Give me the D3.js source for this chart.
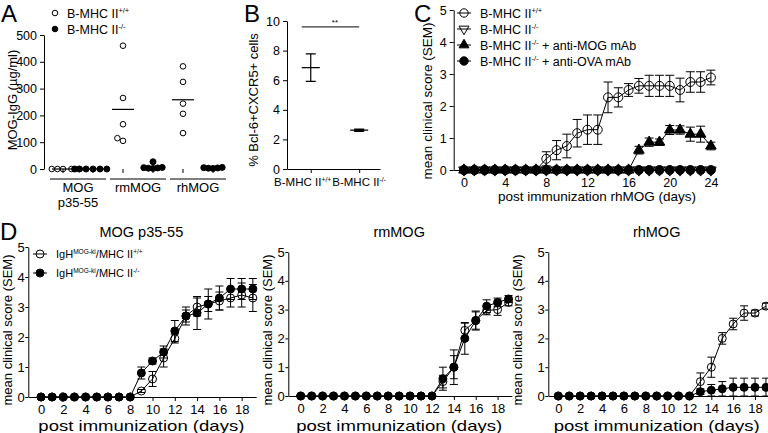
<!DOCTYPE html>
<html>
<head>
<meta charset="utf-8">
<script src="https://cdn.jsdelivr.net/npm/d3@7"></script>
<style>
body { margin: 0; background: #fff; }
svg { display: block; }
</style>
</head>
<body>
<svg id="fig" width="768" height="433"></svg>
<script>
var FAM = '"Liberation Sans", Arial, Helvetica, sans-serif';

// ---- panel A : MOG-IgG per immunogen ----
var aGroups = [['MOG', 'p35-55'], ['rmMOG'], ['rhMOG']];
var aWt = [[0, 0, 0, 0, 0], [460, 265, 167, 115, 105], [383, 325, 244, 206, 134]];
var aKo = [[0, 0, 0, 0, 0, 0], [27, 5, 3, 4, 2, 6], [5, 3, 6, 4, 2]];
var aTicks = [0, 100, 200, 300, 400, 500];

// ---- panel B : Tfh cells ----
var bGroups = [['B-MHC II', '^+/+'], ['B-MHC II', '^-/-']];
var bMean = [6.85, 2.62];
var bSem = [0.93, 0.08];
var bTicks = [0, 2, 4, 6, 8, 10];

// ---- panel C : EAE after rhMOG ----
var cDays = [0, 1, 2, 3, 4, 5, 6, 7, 8, 9, 10, 11, 12, 13, 14, 15, 16, 17, 18, 19, 20, 21, 22, 23, 24];
var cWt    = [0, 0, 0, 0, 0, 0, 0, 0, 0.35, 0.62, 0.75, 1.15, 1.26, 1.26, 2.27, 2.27, 2.5, 2.63, 2.63, 2.63, 2.63, 2.5, 2.75, 2.75, 2.89];
var cWtErr = [0, 0, 0, 0, 0, 0, 0, 0, 0.22, 0.3, 0.37, 0.43, 0.46, 0.46, 0.48, 0.3, 0.2, 0.23, 0.33, 0.33, 0.33, 0.37, 0.32, 0.32, 0.23];
var cKo    = [0, 0, 0, 0, 0, 0, 0, 0, 0, 0, 0, 0, 0, 0, 0, 0, 0, 0, 0, 0, 0, 0, 0, 0, 0];
var cMog    = [0, 0, 0, 0, 0, 0, 0, 0, 0, 0, 0, 0, 0, 0, 0, 0, 0, 0.62, 0.87, 0.87, 1.25, 1.25, 1.12, 1.12, 0.75];
var cMogErr = [0, 0, 0, 0, 0, 0, 0, 0, 0, 0, 0, 0, 0, 0, 0, 0, 0, 0.12, 0.13, 0.1, 0.14, 0.13, 0.22, 0.25, 0.12];
var cOva   = [0, 0, 0, 0, 0, 0, 0, 0, 0, 0, 0, 0, 0, 0, 0, 0, 0, 0, 0, 0, 0, 0, 0, 0, 0];
var cXTicks = [0, 4, 8, 12, 16, 20, 24];
var cLegend = [
  [['B-MHC II', '^+/+'], 'circleOpen'],
  [['B-MHC II', '^-/-'], 'triDownOpen'],
  [['B-MHC II', '^-/-', ' + anti-MOG mAb'], 'triUp'],
  [['B-MHC II', '^-/-', ' + anti-OVA mAb'], 'circleFilled']
];

// ---- panel D : IgH MOG-ki mice ----
var dDays = [0, 1, 2, 3, 4, 5, 6, 7, 8, 9, 10, 11, 12, 13, 14, 15, 16, 17, 18, 19];
var dTitles = ['MOG p35-55', 'rmMOG', 'rhMOG'];
var d1Wt    = [0, 0, 0, 0, 0, 0, 0, 0, 0, 0.2, 0.6, 1.3, 1.95, 2.7, 3.0, 3.1, 3.2, 3.3, 3.4, 3.3];
var d1WtErr = [0, 0, 0, 0, 0, 0, 0, 0, 0, 0.05, 0.25, 0.3, 0.15, 0.2, 0.3, 0.5, 0.3, 0.3, 0.4, 0.45];
var d1Ko    = [0, 0, 0, 0, 0, 0, 0, 0, 0, 0.8, 1.2, 1.5, 2.2, 2.7, 2.8, 3.1, 3.3, 3.6, 3.6, 3.6];
var d1KoErr = [0, 0, 0, 0, 0, 0, 0, 0, 0, 0.2, 0.1, 0.2, 0.35, 0.3, 0.55, 0.25, 0.4, 0.35, 0.35, 0.35];
var d2Wt    = [0, 0, 0, 0, 0, 0, 0, 0, 0, 0, 0, 0, 0, 0.5, 1.0, 2.28, 2.62, 2.97, 3.0, 3.25];
var d2WtErr = [0, 0, 0, 0, 0, 0, 0, 0, 0, 0, 0, 0, 0, 0.22, 0.4, 0.25, 0.3, 0.15, 0.2, 0.12];
var d2Ko    = [0, 0, 0, 0, 0, 0, 0, 0, 0, 0, 0, 0, 0, 0.6, 1.0, 2.0, 2.62, 3.12, 3.25, 3.37];
var d2KoErr = [0, 0, 0, 0, 0, 0, 0, 0, 0, 0, 0, 0, 0, 0.4, 0.6, 0.55, 0.33, 0.22, 0.15, 0.12];
var d3Wt    = [0, 0, 0, 0, 0, 0, 0, 0, 0, 0, 0, 0, 0, 0.5, 1.0, 2.0, 2.5, 2.88, 2.88, 3.12];
var d3WtErr = [0, 0, 0, 0, 0, 0, 0, 0, 0, 0, 0, 0, 0, 0.3, 0.35, 0.2, 0.2, 0.25, 0.1, 0.1];
var d3Ko    = [0, 0, 0, 0, 0, 0, 0, 0, 0, 0, 0, 0, 0, 0.15, 0.2, 0.25, 0.3, 0.3, 0.3, 0.3];
var d3KoErr = [0, 0, 0, 0, 0, 0, 0, 0, 0, 0, 0, 0, 0, 0.1, 0.2, 0.25, 0.32, 0.32, 0.32, 0.32];
var dXTicks = [0, 2, 4, 6, 8, 10, 12, 14, 16, 18];
var dLegend = [
  [['IgH', '^MOG-ki', '/MHC II', '^+/+'], 'circleOpen'],
  [['IgH', '^MOG-ki', '/MHC II', '^-/-'], 'circleFilled']
];
var scoreTicks = [0, 1, 2, 3, 4, 5];

var svg = d3.select('#fig').attr('font-family', FAM);
var intFmt = d3.format('d');

// text with superscript parts (a part starting with ^ is raised)
function richText(g, x, y, parts, size, anchor) {
  var t = g.append('text').attr('x', x).attr('y', y)
    .attr('font-size', size).attr('text-anchor', anchor || 'start');
  var up = false, s = size * 0.38;
  parts.forEach(function(p) {
    var sup = p.charAt(0) === '^';
    var dy = 0;
    if (sup && !up) dy = -s;
    if (!sup && up) dy = s;
    up = sup;
    t.append('tspan').attr('dy', dy).attr('font-size', sup ? size * 0.6 : size)
      .text(sup ? p.slice(1) : p);
  });
  return t;
}

function styleAxis(sel, size) {
  sel.attr('font-size', size).attr('font-family', FAM);
  sel.selectAll('.domain, .tick line').attr('stroke', '#000');
}

function marker(g, type, cx, cy, r) {
  if (type === 'circleOpen' || type === 'circleFilled') {
    g.append('circle').attr('cx', cx).attr('cy', cy).attr('r', r)
      .attr('fill', type === 'circleOpen' ? 'none' : '#000')
      .attr('stroke', '#000').attr('stroke-width', 1);
  } else {
    var sym = d3.symbol().type(d3.symbolTriangle).size(r * r * 2.4);
    g.append('path').attr('d', sym())
      .attr('transform', 'translate(' + cx + ',' + cy + ')' + (type === 'triDownOpen' ? ' rotate(180)' : ''))
      .attr('fill', type === 'triDownOpen' ? 'none' : '#000')
      .attr('stroke', '#000').attr('stroke-width', 1);
  }
}

function yTitle(x, y, label, size) {
  svg.append('text').attr('transform', 'translate(' + x + ',' + y + ') rotate(-90)')
    .attr('text-anchor', 'middle').attr('font-size', size).text(label);
}

function panelLetter(x, y, l) {
  svg.append('text').attr('x', x).attr('y', y).attr('font-size', 24).text(l);
}

// simple beeswarm so equal values sit side by side
function swarm(vals, cx, yScale, sep) {
  var placed = [];
  vals.slice().sort(d3.ascending).forEach(function(v) {
    var py = yScale(v), k = 0, px;
    while (true) {
      var off = k === 0 ? 0 : Math.ceil(k / 2) * (k % 2 ? -1 : 1) * sep / 2;
      px = cx + off;
      var ok = placed.every(function(p) { return Math.hypot(p.x - px, p.y - py) >= sep; });
      if (ok) break;
      k++;
    }
    placed.push({ v: v, x: px, y: py });
  });
  return placed;
}

// ================= A =================
var aY = d3.scaleLinear().domain([0, 500]).range([169, 35]);
var aX = d3.scalePoint().domain(d3.range(aGroups.length * 2)).range([63, 213]);

svg.append('g').attr('transform', 'translate(44,0)')
  .call(d3.axisLeft(aY).tickValues(aTicks).tickFormat(intFmt).tickSize(4).tickPadding(3).tickSizeOuter(0))
  .call(styleAxis, 12.5);

var gA = svg.append('g');
aGroups.forEach(function(lines, i) {
  var c0 = aX(2 * i), c1 = aX(2 * i + 1);
  [c0, c1].forEach(function(c) {
    gA.append('line').attr('x1', c).attr('x2', c).attr('y1', aY(0)).attr('y2', aY(0) + 4).attr('stroke', '#000');
  });
  [[aWt[i], c0, 'circleOpen', 2.8, 5.6], [aKo[i], c1, 'circleFilled', 3, 4.6]].forEach(function(s) {
    var pts = swarm(s[0], s[1], aY, s[4]);
    gA.append('line').attr('x1', s[1] - 11).attr('x2', s[1] + 11)
      .attr('y1', aY(d3.mean(s[0]))).attr('y2', aY(d3.mean(s[0])))
      .attr('stroke', '#000').attr('stroke-width', 1.2);
    pts.forEach(function(p) { marker(gA, s[2], p.x, p.y, s[3]); });
  });
  gA.append('line').attr('x1', c0 - 13).attr('x2', c1 + 13).attr('y1', 179).attr('y2', 179)
    .attr('stroke', '#000');
  lines.forEach(function(t, j) {
    gA.append('text').attr('x', (c0 + c1) / 2).attr('y', 192 + j * 15)
      .attr('text-anchor', 'middle').attr('font-size', 13).text(t);
  });
});
[[['B-MHC II', '^+/+'], 'circleOpen'], [['B-MHC II', '^-/-'], 'circleFilled']].forEach(function(it, i) {
  marker(gA, it[1], 55, 13 + i * 16, 2.8);
  richText(gA, 67, 17.5 + i * 16, it[0], 12.5);
});
yTitle(17, 100, 'MOG-IgG (\u00b5g/ml)', 13);
panelLetter(1, 22, 'A');

// ================= B =================
var bY = d3.scaleLinear().domain([0, 10]).range([169, 21]);
var bX = d3.scaleLinear().domain([-0.49, 1.43]).range([287, 380]);
svg.append('g').attr('transform', 'translate(287,0)')
  .call(d3.axisLeft(bY).tickValues(bTicks).tickFormat(intFmt).tickSize(4).tickPadding(3).tickSizeOuter(0))
  .call(styleAxis, 12.5);
svg.append('g').attr('transform', 'translate(0,169)')
  .call(d3.axisBottom(bX).tickValues([0, 1]).tickFormat('').tickSize(4).tickSizeOuter(0))
  .call(styleAxis, 12.5);
var gB = svg.append('g');
bGroups.forEach(function(lab, i) {
  var cx = bX(i);
  var top = bY(bMean[i] + bSem[i]), bot = bY(bMean[i] - bSem[i]);
  gB.append('path').attr('fill', 'none').attr('stroke', '#000').attr('stroke-width', 1.2)
    .attr('d', 'M' + cx + ',' + top + 'V' + bot +
      'M' + (cx - 5) + ',' + top + 'H' + (cx + 5) +
      'M' + (cx - 5) + ',' + bot + 'H' + (cx + 5) +
      'M' + (cx - 9) + ',' + bY(bMean[i]) + 'H' + (cx + 9));
  // first label sits a little left of its tick, as in the figure
  richText(gB, i === 0 ? cx - 8 : cx, 186, lab, 11.5, 'middle');
});
gB.append('line').attr('x1', bX(0) - 9).attr('x2', bX(1)).attr('y1', bY(9.6)).attr('y2', bY(9.6))
  .attr('stroke', '#000');
gB.append('text').attr('x', (bX(0) + bX(1)) / 2).attr('y', bY(9.6) - 2)
  .attr('text-anchor', 'middle').attr('font-size', 8).text('**');
yTitle(258, 100, '% Bcl-6+CXCR5+ cells', 13);
panelLetter(244, 22, 'B');

// ============ time course helper ============
function timeCourse(o) {
  var g = svg.append('g');
  g.append('g').attr('transform', 'translate(0,' + o.y(0) + ')')
    .call(d3.axisBottom(o.x).tickValues(o.xTicks).tickFormat(intFmt).tickSize(4).tickPadding(4).tickSizeOuter(0))
    .call(styleAxis, o.tickFont);
  g.append('g').attr('transform', 'translate(' + o.x.range()[0] + ',0)')
    .call(d3.axisLeft(o.y).tickValues(scoreTicks).tickFormat(intFmt).tickSize(o.yTick).tickPadding(o.yPad).tickSizeOuter(0))
    .call(styleAxis, o.tickFont);
  o.series.forEach(function(s) {
    var pts = o.days.map(function(d, i) { return { d: d, v: s.vals[i], e: s.errs[i] }; });
    g.append('path').datum(pts).attr('fill', 'none').attr('stroke', '#000').attr('stroke-width', 1)
      .attr('d', d3.line().x(function(p) { return o.x(p.d); }).y(function(p) { return o.y(p.v); }));
    pts.filter(function(p) { return p.e > 0; }).forEach(function(p) {
      var cx = o.x(p.d), y1 = o.y(Math.max(0, p.v - p.e)), y2 = o.y(p.v + p.e);
      g.append('path').attr('fill', 'none').attr('stroke', '#000').attr('stroke-width', 1)
        .attr('d', 'M' + cx + ',' + y1 + 'V' + y2 +
          'M' + (cx - o.cap) + ',' + y1 + 'H' + (cx + o.cap) +
          'M' + (cx - o.cap) + ',' + y2 + 'H' + (cx + o.cap));
    });
    pts.forEach(function(p) { marker(g, s.type, o.x(p.d), o.y(p.v), o.r); });
  });
  return g;
}

function legend(items, x, y0, step, size, r) {
  var g = svg.append('g');
  items.forEach(function(it, i) {
    var y = y0 + i * step;
    g.append('line').attr('x1', x - 7).attr('x2', x + 7).attr('y1', y).attr('y2', y).attr('stroke', '#000');
    marker(g, it[1], x, y, r);
    richText(g, x + 16, y + size * 0.36, it[0], size);
  });
}

// ================= C =================
var cX = d3.scaleLinear().domain([-1, 24.3]).range([453.7, 714]);
var cY = d3.scaleLinear().domain([0, 5]).range([170, 10]);
timeCourse({
  x: cX, y: cY, days: cDays, xTicks: cXTicks, tickFont: 12.5, cap: 4.5, r: 4.5, yTick: 4, yPad: 3,
  series: [
    { vals: cWt, errs: cWtErr, type: 'circleOpen' },
    { vals: cKo, errs: cKo, type: 'triDownOpen' },
    { vals: cMog, errs: cMogErr, type: 'triUp' },
    { vals: cOva, errs: cOva, type: 'circleFilled' }
  ]
});
legend(cLegend, 464, 13, 16, 12.5, 4.2);
svg.append('text').attr('x', 597).attr('y', 201).attr('text-anchor', 'middle')
  .attr('font-size', 13.5).text('post immunization rhMOG (days)');
yTitle(432, 101, 'mean clinical score (SEM)', 13.5);
panelLetter(414, 22, 'C');

// ================= D =================
var dPanels = [
  { x0: 41, y0: 397, y5: 247, yAxis: 28.3, step: 11.15, wt: d1Wt, wtE: d1WtErr, ko: d1Ko, koE: d1KoErr, yl: 12 },
  { x0: 300.7, y0: 396, y5: 252, yAxis: 288.3, step: 10.94, wt: d2Wt, wtE: d2WtErr, ko: d2Ko, koE: d2KoErr, yl: 272 },
  { x0: 558.3, y0: 396, y5: 252, yAxis: 548.3, step: 10.93, wt: d3Wt, wtE: d3WtErr, ko: d3Ko, koE: d3KoErr, yl: 522 }
];
dPanels.forEach(function(p, i) {
  var lo = (p.yAxis - p.x0) / p.step;
  var x = d3.scaleLinear().domain([lo, 19.3]).range([p.yAxis, p.x0 + 19.3 * p.step]);
  var y = d3.scaleLinear().domain([0, 5]).range([p.y0, p.y5]);
  timeCourse({
    x: x, y: y, days: dDays, xTicks: dXTicks, tickFont: 13, cap: 4, r: 4, yTick: 3, yPad: 0.5,
    series: [
      { vals: p.wt, errs: p.wtE, type: 'circleOpen' },
      { vals: p.ko, errs: p.koE, type: 'circleFilled' }
    ]
  });
  var cx = (x(0) + x(18)) / 2;
  svg.append('text').attr('x', cx).attr('y', 237).attr('text-anchor', 'middle')
    .attr('font-size', 14.5).text(dTitles[i]);
  svg.append('text').attr('x', cx).attr('y', 431).attr('text-anchor', 'middle')
    .attr('font-size', 15).attr('textLength', 206).attr('lengthAdjust', 'spacingAndGlyphs')
    .text('post immunization (days)');
  yTitle(p.yl, 330, 'mean clinical score (SEM)', 13);
});
legend(dLegend, 40, 254, 19, 11, 4);
panelLetter(0, 240, 'D');
</script>
</body>
</html>
